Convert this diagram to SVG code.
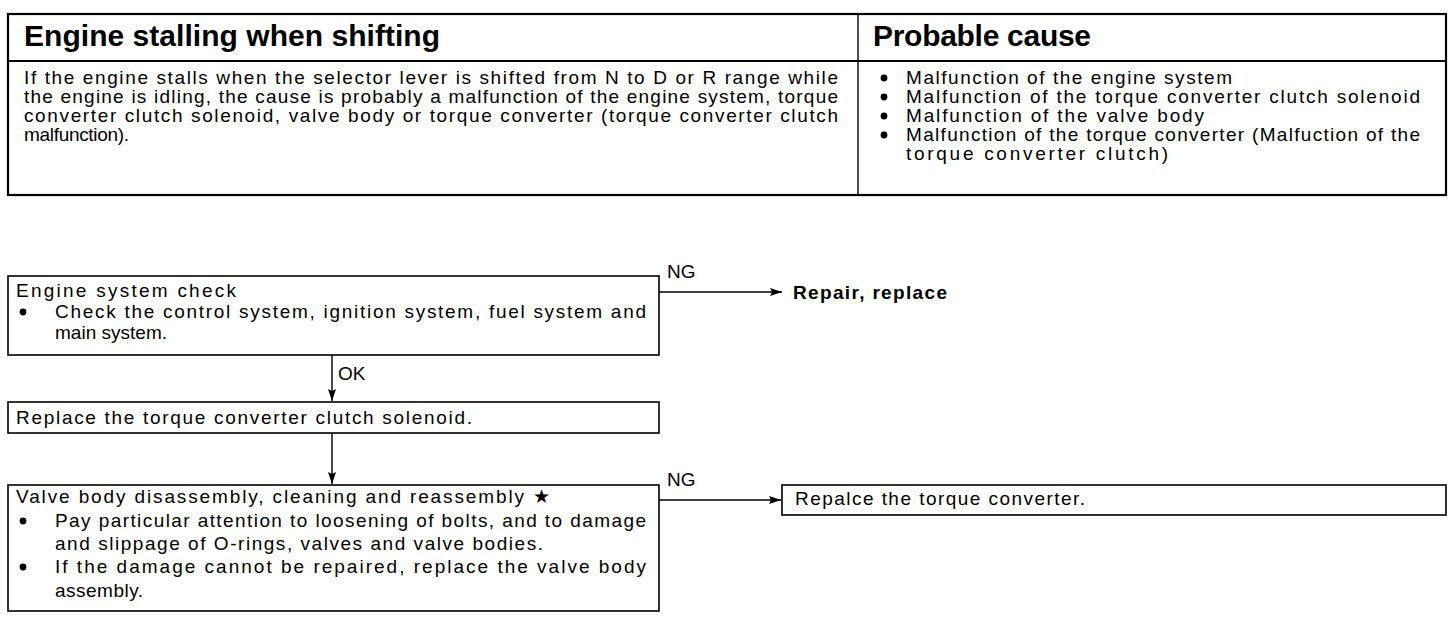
<svg xmlns="http://www.w3.org/2000/svg" width="1456" height="644" viewBox="0 0 1456 644">
<defs>
<style>
text{font-family:"Liberation Sans",Arial,sans-serif;fill:#000}
.h{font-size:30px;font-weight:bold}
.b{font-size:19px}
.f{font-size:19px}
.bold{font-weight:bold}
.box{fill:#fff;stroke:#000;stroke-width:1.6}
.tb{fill:none;stroke:#000;stroke-width:2.2}
.ln{fill:none;stroke:#000;stroke-width:1.4}
</style>
<marker id="ah" viewBox="0 0 12 8" refX="12" refY="4" markerWidth="12" markerHeight="8" markerUnits="userSpaceOnUse" orient="auto">
<path d="M0,0 L12,4 L0,8 L2,4 Z" fill="#000"/>
</marker>
</defs>
<rect width="1456" height="644" fill="#fff"/>

<g id="table">
<rect class="tb" x="8" y="14" width="1438" height="181"/>
<line class="tb" x1="8" y1="61" x2="1446" y2="61"/>
<line class="ln" x1="858" y1="14" x2="858" y2="195"/>
<text class="h" x="24" y="46" textLength="416" lengthAdjust="spacing">Engine stalling when shifting</text>
<text class="h" x="873" y="46" textLength="218" lengthAdjust="spacing">Probable cause</text>
<text class="b" x="24" y="84" textLength="814" lengthAdjust="spacing">If the engine stalls when the selector lever is shifted from N to D or R range while</text>
<text class="b" x="24" y="103" textLength="814" lengthAdjust="spacing">the engine is idling, the cause is probably a malfunction of the engine system, torque</text>
<text class="b" x="24" y="122" textLength="814" lengthAdjust="spacing">converter clutch solenoid, valve body or torque converter (torque converter clutch</text>
<text class="b" x="24" y="141" textLength="105" lengthAdjust="spacing">malfunction).</text>
<g id="causes">
<circle cx="884" cy="78" r="3.4"/>
<circle cx="884" cy="97" r="3.4"/>
<circle cx="884" cy="116" r="3.4"/>
<circle cx="884" cy="135" r="3.4"/>
<text class="b" x="906" y="84" textLength="326" lengthAdjust="spacing">Malfunction of the engine system</text>
<text class="b" x="906" y="103" textLength="514" lengthAdjust="spacing">Malfunction of the torque converter clutch solenoid</text>
<text class="b" x="906" y="122" textLength="298" lengthAdjust="spacing">Malfunction of the valve body</text>
<text class="b" x="906" y="141" textLength="514" lengthAdjust="spacing">Malfunction of the torque converter (Malfuction of the</text>
<text class="b" x="906" y="160" textLength="262" lengthAdjust="spacing">torque converter clutch)</text>
</g>
</g>

<g id="connectors">
<polyline class="ln" points="659,292 782,292" marker-end="url(#ah)"/>
<text class="f" x="667" y="278">NG</text>
<line class="ln" x1="332" y1="355" x2="332" y2="401" marker-end="url(#ah)"/>
<text class="f" x="338" y="380">OK</text>
<line class="ln" x1="332" y1="433" x2="332" y2="484" marker-end="url(#ah)"/>
<line class="ln" x1="659" y1="500" x2="781" y2="500" marker-end="url(#ah)"/>
<text class="f" x="667" y="486">NG</text>
</g>

<g id="n-repair">
<text class="f bold" x="793" y="299" textLength="154" lengthAdjust="spacing">Repair, replace</text>
</g>

<g id="n-engine">
<rect class="box" x="8" y="276" width="651" height="79"/>
<text class="f" x="16" y="297" textLength="220" lengthAdjust="spacing">Engine system check</text>
<circle cx="23" cy="312" r="3.4"/>
<text class="f" x="55" y="318" textLength="591" lengthAdjust="spacing">Check the control system, ignition system, fuel system and</text>
<text class="f" x="55" y="339" textLength="112" lengthAdjust="spacing">main system.</text>
</g>

<g id="n-solenoid">
<rect class="box" x="8" y="402" width="651" height="31"/>
<text class="f" x="16" y="424" textLength="456" lengthAdjust="spacing">Replace the torque converter clutch solenoid.</text>
</g>

<g id="n-valve">
<rect class="box" x="8" y="485" width="651" height="126"/>
<text class="f" x="16" y="503" textLength="534" lengthAdjust="spacing">Valve body disassembly, cleaning and reassembly ★</text>
<circle cx="23" cy="521" r="3.4"/>
<text class="f" x="55" y="527" textLength="591" lengthAdjust="spacing">Pay particular attention to loosening of bolts, and to damage</text>
<text class="f" x="55" y="550" textLength="488" lengthAdjust="spacing">and slippage of O-rings, valves and valve bodies.</text>
<circle cx="23" cy="567" r="3.4"/>
<text class="f" x="55" y="573" textLength="591" lengthAdjust="spacing">If the damage cannot be repaired, replace the valve body</text>
<text class="f" x="55" y="597" textLength="88" lengthAdjust="spacing">assembly.</text>
</g>

<g id="n-torque">
<rect class="box" x="782" y="485" width="664" height="30"/>
<text class="f" x="795" y="505" textLength="290" lengthAdjust="spacing">Repalce the torque converter.</text>
</g>
</svg>
